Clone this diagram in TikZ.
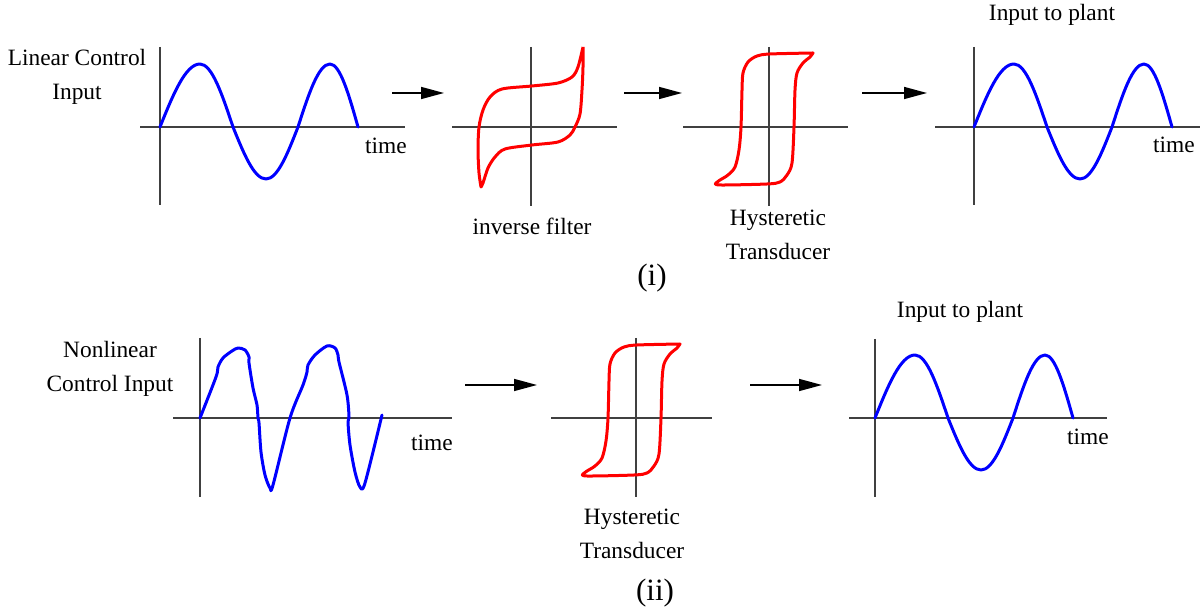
\documentclass[tikz,border=0pt]{standalone}
\usepackage{fontspec}
\setmainfont{Liberation Serif}
\usetikzlibrary{arrows.meta, positioning}

\begin{document}
\begin{tikzpicture}[
    x=0.5pt, y=-0.5pt,
    font=\fontsize{11.7}{16.7}\selectfont,
    axis/.style={
        draw=black!75,
        line width=0.75pt
    },
    signal/.style={
        draw=blue,
        line width=1.5pt,
        line join=round,
        line cap=round
    },
    loop/.style={
        draw=red,
        line width=1.5pt,
        line join=round
    },
    flow arrow/.style={
        -{Triangle[length=11.5pt, width=6pt]},
        line width=0.75pt
    },
    label text/.style={
        align=center,
        inner sep=0pt
    },
    caption text/.style={
        inner sep=0pt,
        font=\fontsize{15.5}{18}\selectfont
    },
    sine wave/.pic={
        \draw[signal] (0,0)
            .. controls (13,-32.3) and (25.5,-63) .. (40,-63)
            .. controls (52,-63) and (62.2,-32.3) .. (73,0)
            .. controls (83.8,26.6) and (94,52) .. (106,52)
            .. controls (117.6,52) and (127.6,26.6) .. (138,0)
            .. controls (148.4,-32.3) and (158.4,-63) .. (170,-63)
            .. controls (180.1,-63) and (188.9,-32.3) .. (198,0);
    },
    hyst loop/.pic={
        \draw[loop] plot[smooth] coordinates {
            (44,-74) (1,-73) (-12,-71) (-21,-65) (-26,-54) (-27,-37) (-28,0)
            (-30,23) (-34,40) (-41,48) (-49,53) (-53,56)}
            -- plot[smooth] coordinates {
            (-53,56) (-49,58) (-2,57) (11,55) (18,48) (23,36) (25,0)
            (26,-37) (28,-54) (34,-64) (41,-70) (44,-74)} -- cycle;
    }
]

    \useasboundingbox (0,0) rectangle (1202,613);

    % --- (i) TOP ROW ---
    % Linear control input
    \begin{scope}[shift={(160,127)}]
        \draw[axis] (-20,0) -- (245,0);
        \draw[axis] (0,-80) -- (0,78);
        \pic {sine wave};
    \end{scope}
    \node[label text] (lininput) at (77,77) {Linear Control\\Input};
    \node[label text] (time1) at (386,146) {time};

    % Inverse filter
    \begin{scope}[shift={(531,127)}]
        \draw[axis] (-79,0) -- (86,0);
        \draw[axis] (0,-80) -- (0,79);
        \draw[loop] plot[smooth] coordinates {
            (52,-80) (47,-60) (41,-50) (27,-44) (1,-41) (-29,-38) (-41,-30)
            (-48,-17) (-52,0) (-53,23) (-52,46) (-50,60)}
            -- plot[smooth] coordinates {
            (-50,60) (-48,56) (-43,41) (-36,30) (-26,22) (1,18) (27,15)
            (39,8) (44,0) (49,-13) (51,-37) (52,-60) (52,-80)};
    \end{scope}
    \node[label text] (invfilter) at (532,226) {inverse filter};

    % Hysteretic transducer
    \begin{scope}[shift={(769,127)}]
        \draw[axis] (-86,0) -- (79,0);
        \draw[axis] (0,-80) -- (0,79);
        \pic {hyst loop};
    \end{scope}
    \node[label text] (hyst1) at (778,235) {Hysteretic\\Transducer};

    % Input to plant
    \begin{scope}[shift={(974,127)}]
        \draw[axis] (-39,0) -- (226,0);
        \draw[axis] (0,-80) -- (0,78);
        \pic {sine wave};
    \end{scope}
    \node[label text] (plant1) at (1052,15) {Input to plant};
    \node[label text] (time2) at (1174,145) {time};

    \node[caption text] (capi) at (652,278) {(i)};

    % arrows
    \coordinate (a1 tail) at (392,93);
    \coordinate (a1 head) at (444,93);
    \coordinate (a2 tail) at (624,93);
    \coordinate (a2 head) at (682,93);
    \coordinate (a3 tail) at (862,93);
    \coordinate (a3 head) at (927,93);
    \draw[flow arrow] (a1 tail) -- (a1 head);
    \draw[flow arrow] (a2 tail) -- (a2 head);
    \draw[flow arrow] (a3 tail) -- (a3 head);

    % --- (ii) BOTTOM ROW ---
    % Nonlinear control input
    \begin{scope}[shift={(200,418)}]
        \draw[axis] (-27,0) -- (252,0);
        \draw[axis] (0,-80) -- (0,79);
        \draw[signal] plot[smooth, tension=0.5] coordinates {
            (0,0) (16,-41) (18,-51) (23,-60) (32,-67) (38,-70) (45,-68)
            (49,-61) (49,-55) (53,-30) (57,-13) (58,0) (59,5) (61,34)
            (65,57) (70,70) (73,67) (90,0) (103,-33) (107,-46) (108,-53)
            (115,-63) (127,-72) (135,-70) (138,-63) (139,-56) (147,-23)
            (149,-1) (148,4) (150,27) (155,54) (160,69) (165,65) (182,-3)};
    \end{scope}
    \node[label text] (nonlininput) at (110,369) {Nonlinear\\Control Input};
    \node[label text] (time3) at (432,443) {time};

    % Hysteretic transducer
    \begin{scope}[shift={(636,418)}]
        \draw[axis] (-85,0) -- (76,0);
        \draw[axis] (0,-80) -- (0,79);
        \pic {hyst loop};
    \end{scope}
    \node[label text] (hyst2) at (632,534) {Hysteretic\\Transducer};

    % Input to plant
    \begin{scope}[shift={(875,418)}]
        \draw[axis] (-26,0) -- (232,0);
        \draw[axis] (0,-79) -- (0,79);
        \pic {sine wave};
    \end{scope}
    \node[label text] (plant2) at (960,312) {Input to plant};
    \node[label text] (time4) at (1088,437) {time};

    \node[caption text] (capii) at (655,593) {(ii)};

    % arrows
    \coordinate (a4 tail) at (465,385);
    \coordinate (a4 head) at (537,385);
    \coordinate (a5 tail) at (750,385);
    \coordinate (a5 head) at (822,385);
    \draw[flow arrow] (a4 tail) -- (a4 head);
    \draw[flow arrow] (a5 tail) -- (a5 head);

\end{tikzpicture}
\end{document}
